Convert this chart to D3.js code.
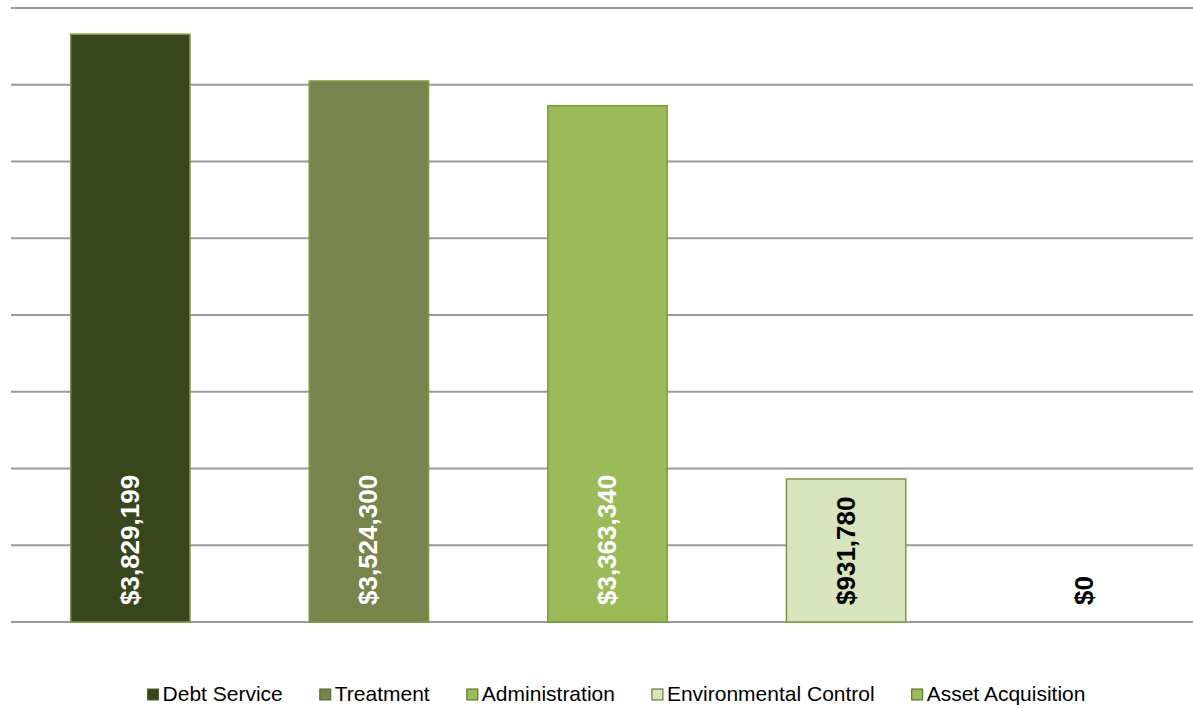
<!DOCTYPE html>
<html><head><meta charset="utf-8">
<script src="https://cdn.jsdelivr.net/npm/d3@7"></script>
<style>body{margin:0;background:#fff;}svg{display:block;font-family:"Liberation Sans",Arial,sans-serif;}</style>
</head><body><svg id="c" width="1193" height="708"></svg>
<script>
const categories = ["Debt Service","Treatment","Administration","Environmental Control","Asset Acquisition"];
const values = [3829199, 3524300, 3363340, 931780, 0];
const colors = ["#38461c","#77844b","#9bbb59","#d7e4bd","#9bbb59"];
const labelColors = ["#ffffff","#ffffff","#ffffff","#000000","#000000"];
const yTicks = [0,500000,1000000,1500000,2000000,2500000,3000000,3500000,4000000];

const svg = d3.select("#c");
const x = d3.scaleBand().domain(categories).range([11,1204]).paddingInner(0.5).paddingOuter(0.25);
const y = d3.scaleLinear().domain([0,4000000]).range([622,8]);

svg.append("g").selectAll("line").data(yTicks).join("line")
  .attr("x1",11).attr("x2",1193)
  .attr("y1",d=>y(d)).attr("y2",d=>y(d))
  .attr("stroke","#9a9a9a").attr("stroke-width",2);

svg.append("g").selectAll("rect").data(values).join("rect")
  .attr("x",(d,i)=>x(categories[i]))
  .attr("width",x.bandwidth())
  .attr("y",d=>y(d)).attr("height",d=>y(0)-y(d))
  .attr("fill",(d,i)=>colors[i])
  .attr("stroke",(d,i)=>d>0?"#7a9a3e":"none").attr("stroke-width",1.5)
  .attr("display",d=>d>0?null:"none");

const fmt = d3.format("$,.0f");
svg.append("g").selectAll("text").data(values).join("text")
  .attr("transform",(d,i)=>`translate(${x(categories[i])+x.bandwidth()/2+8.5},${y(0)-17}) rotate(-90)`)
  .attr("text-anchor","start")
  .attr("font-size",26).attr("font-weight","bold")
  .attr("fill",(d,i)=>labelColors[i])
  .text(d=>fmt(d));

// legend
const lg = svg.append("g");
const items = lg.selectAll("g").data(categories).join("g");
items.append("rect").attr("width",11).attr("height",11).attr("y",-6)
  .attr("fill",(d,i)=>colors[i]).attr("stroke","#4f6228").attr("stroke-width",1);
items.append("text").attr("x",15).attr("y",0).attr("dominant-baseline","middle")
  .attr("font-size",21).attr("fill","#000").text(d=>d);
let cx = 0; const widths=[];
items.each(function(){ widths.push(this.getBBox().width); });
const gap = 37;
const total = d3.sum(widths) + gap*(widths.length-1);
cx = 616.5 - total/2;
items.attr("transform",(d,i)=>{ const t=`translate(${cx},${695})`; cx += widths[i]+gap; return t; });
</script></body></html>
